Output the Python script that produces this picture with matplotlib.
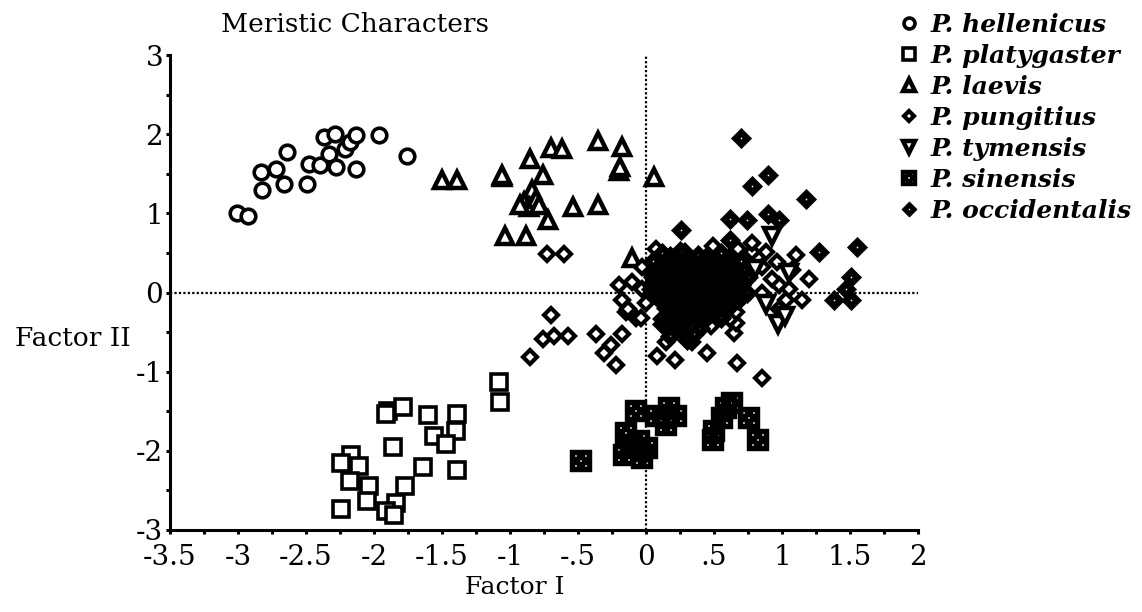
import matplotlib
matplotlib.use('Agg')
import matplotlib.pyplot as plt
from matplotlib.path import Path

# ---- data (Factor I, Factor II) ----
hell_x = [-3.01, -2.93, -2.82, -2.83, -2.72, -2.66, -2.64, -2.49, -2.48, -2.40, -2.37,
          -2.29, -2.33, -2.28, -2.21, -2.18, -2.13, -2.13, -1.96, -1.76]
hell_y = [1.01, 0.97, 1.30, 1.52, 1.56, 1.37, 1.77, 1.37, 1.62, 1.61, 1.96,
          2.00, 1.75, 1.58, 1.81, 1.90, 1.99, 1.56, 1.99, 1.73]

plat_x = [-1.08, -1.07, -1.90, -1.79, -1.91, -1.60, -1.39, -1.56, -1.40, -1.47, -1.86,
          -2.17, -2.24, -2.11, -1.64, -1.39, -2.18, -2.04, -1.77, -2.05, -1.84, -2.24,
          -1.91, -1.85]
plat_y = [-1.13, -1.38, -1.50, -1.44, -1.54, -1.55, -1.54, -1.81, -1.75, -1.91, -1.95,
          -2.05, -2.15, -2.19, -2.20, -2.24, -2.38, -2.45, -2.45, -2.63, -2.66, -2.74,
          -2.76, -2.81]

laev_x = [-1.50, -1.39, -1.06, -1.06, -0.85, -0.70, -0.62, -0.35, -0.18, -0.20, -0.19,
          -0.76, -0.84, -0.90, -0.86, -0.81, -0.93, -0.79, -0.54, -0.35, -0.72, -1.04,
          -0.88, 0.06, -0.10]
laev_y = [1.42, 1.42, 1.46, 1.49, 1.69, 1.83, 1.81, 1.91, 1.84, 1.54, 1.58,
          1.49, 1.30, 1.14, 1.08, 1.18, 1.11, 1.10, 1.08, 1.11, 0.91, 0.72,
          0.72, 1.46, 0.44]

pung_x = [-0.73, -0.60, -0.70, -0.76, -0.68, -0.57, -0.85, -0.37, -0.26, -0.18, -0.31,
          -0.22, -0.15, -0.07, 0.67, 0.85, 0.45, 0.34, 0.21, 0.08, 0.15, 0.65, 0.66,
          1.10, 1.20, 1.15, 1.03, 0.98, 1.07, 0.88, 0.78, 0.85, 0.96, 0.93, 0.85, 0.98,
          1.05, 0.78, 0.68, 0.07, -0.03, -0.10, -0.03, -0.18, -0.13, 0.00, -0.20, 0.04,
          -0.04, 0.12, 0.24, 0.62, 0.66, 0.48, 0.49, 0.29]
pung_y = [0.49, 0.49, -0.29, -0.59, -0.55, -0.55, -0.81, -0.53, -0.66, -0.53, -0.76,
          -0.91, -0.25, -0.32, -0.89, -1.08, -0.76, -0.63, -0.85, -0.80, -0.63, -0.51, -0.38,
          0.47, 0.17, -0.09, -0.09, 0.09, 0.29, 0.51, 0.51, 0.32, 0.38, 0.17, 0.00, -0.21,
          0.04, 0.63, 0.55, 0.55, 0.32, 0.13, 0.04, -0.09, -0.21, -0.13, 0.09, 0.10,
          -0.32, -0.34, -0.42, -0.34, -0.25, -0.42, 0.59, 0.51]

tyme_x = [0.93, 0.97, 1.02, 0.88, 1.05, 0.80]
tyme_y = [0.72, -0.40, -0.30, -0.15, 0.25, 0.30]

sine_x = [-0.48, -0.07, 0.07, 0.17, 0.22, 0.15, -0.15, -0.05, 0.01, -0.16, -0.03, -0.11,
          0.59, 0.63, 0.56, 0.50, 0.49, 0.76, 0.82]
sine_y = [-2.13, -1.50, -1.56, -1.46, -1.56, -1.67, -1.77, -1.88, -1.96, -2.05, -2.09, -1.94,
          -1.46, -1.39, -1.58, -1.75, -1.86, -1.58, -1.86]

occi_x = [0.90, 0.78, 1.18, 0.62, 0.74, 0.90, 0.98, 0.26, 0.62, 1.27, 1.55, 1.51, 1.47,
          1.38, 1.51, 0.70,
          0.12, 0.25, 0.38, 0.55,
          0.05, 0.18, 0.30, 0.45, 0.58, 0.70,
          0.10, 0.22, 0.35, 0.48, 0.60, 0.72,
          0.05, 0.15, 0.28, 0.40, 0.52, 0.65, 0.75,
          0.10, 0.20, 0.33, 0.45, 0.58, 0.70,
          0.05, 0.16, 0.27, 0.38, 0.50, 0.62, 0.74,
          0.10, 0.22, 0.33, 0.44, 0.55, 0.68,
          0.15, 0.27, 0.38, 0.50, 0.60,
          0.20, 0.32, 0.45, 0.55,
          0.25, 0.40, 0.18, 0.30, 0.12, 0.35,
          0.18, 0.31, 0.44, 0.60,
          0.11, 0.24, 0.37, 0.51, 0.64,
          0.04, 0.17, 0.30, 0.42, 0.55, 0.68,
          0.10, 0.22, 0.35, 0.47, 0.60, 0.71,
          0.04, 0.15, 0.28, 0.40, 0.52, 0.64,
          0.09, 0.21, 0.32, 0.44, 0.57, 0.70,
          0.14, 0.26, 0.38, 0.50, 0.62,
          0.22, 0.35, 0.48, 0.28, 0.42]
occi_y = [1.48, 1.35, 1.18, 0.93, 0.91, 0.99, 0.91, 0.79, 0.66, 0.51, 0.57, 0.19, 0.04,
          -0.09, -0.09, 1.95,
          0.50, 0.52, 0.48, 0.50,
          0.40, 0.40, 0.40, 0.40, 0.40, 0.40,
          0.30, 0.30, 0.30, 0.30, 0.30, 0.28,
          0.20, 0.20, 0.20, 0.20, 0.20, 0.20, 0.20,
          0.10, 0.10, 0.10, 0.10, 0.10, 0.10,
          0.00, 0.00, 0.00, 0.00, 0.00, 0.00, 0.00,
          -0.10, -0.10, -0.10, -0.10, -0.10, -0.10,
          -0.20, -0.20, -0.20, -0.20, -0.20,
          -0.30, -0.30, -0.30, -0.32,
          -0.45, -0.45, -0.55, -0.60, -0.40, -0.52,
          0.46, 0.44, 0.45, 0.43,
          0.35, 0.35, 0.34, 0.36, 0.35,
          0.25, 0.25, 0.24, 0.26, 0.25, 0.23,
          0.15, 0.15, 0.14, 0.16, 0.15, 0.13,
          0.05, 0.05, 0.04, 0.06, 0.05, 0.05,
          -0.05, -0.05, -0.06, -0.04, -0.05, -0.06,
          -0.15, -0.15, -0.16, -0.14, -0.15,
          -0.25, -0.25, -0.26, -0.38, -0.36]

species = ['P. hellenicus', 'P. platygaster', 'P. laevis', 'P. pungitius',
           'P. tymensis', 'P. sinensis', 'P. occidentalis']

xticks = [-3.5, -3, -2.5, -2, -1.5, -1, -0.5, 0, 0.5, 1, 1.5, 2]
xticklabels = ['-3.5', '-3', '-2.5', '-2', '-1.5', '-1', '-.5', '0', '.5', '1', '1.5', '2']
yticks = [-3, -2, -1, 0, 1, 2, 3]


def holed_marker(outer, holes, h):
    # outer outline counter-clockwise, small square holes clockwise
    verts = list(outer) + [outer[0]]
    codes = [Path.MOVETO] + [Path.LINETO] * (len(outer) - 1) + [Path.CLOSEPOLY]
    for cx, cy in holes:
        sq = [(cx - h, cy - h), (cx - h, cy + h), (cx + h, cy + h), (cx + h, cy - h)]
        verts += sq + [sq[0]]
        codes += [Path.MOVETO, Path.LINETO, Path.LINETO, Path.LINETO, Path.CLOSEPOLY]
    return Path(verts, codes)


dot_diamond = holed_marker([(0, -1), (1, 0), (0, 1), (-1, 0)], [(0, 0)], 0.12)
dot_square = holed_marker([(-1, -1), (1, -1), (1, 1), (-1, 1)],
                          [(-0.45, -0.45), (0.45, -0.45), (0, 0), (-0.45, 0.45), (0.45, 0.45)],
                          0.10)

plt.rcParams['font.family'] = 'DejaVu Serif'

fig = plt.figure(figsize=(11.42, 6.12), dpi=100)
ax = fig.add_axes([170 / 1142, 82 / 612, 748 / 1142, 475 / 612])

# dotted zero lines
ax.axhline(0, color='black', lw=1.6, ls=(0, (1, 1)), zorder=1)
ax.axvline(0, color='black', lw=1.6, ls=(0, (1, 1)), zorder=1)

k = dict(ls='none', color='black')
h1, = ax.plot(hell_x, hell_y, marker='o', ms=10.5, mfc='white', mew=2.6, **k)
h2, = ax.plot(plat_x, plat_y, marker='s', ms=12, mfc='white', mew=2.6, **k)
h3, = ax.plot(laev_x, laev_y, marker='^', ms=11, mfc='white', mew=3.2, **k)
h4, = ax.plot(pung_x, pung_y, marker='D', ms=7, mfc='white', mew=3.0, **k)
h5, = ax.plot(tyme_x, tyme_y, marker='v', ms=11, mfc='white', mew=3.2, **k)
h6, = ax.plot(sine_x, sine_y, marker=dot_square, ms=15.5, mfc='black', mew=0.3, **k)
h7, = ax.plot(occi_x, occi_y, marker=dot_diamond, ms=14.5, mfc='black', mew=0.5, **k)

ax.set_xlim(-3.5, 2)
ax.set_ylim(-3, 3)
ax.spines['top'].set_visible(False)
ax.spines['right'].set_visible(False)
ax.spines['left'].set_linewidth(2.2)
ax.spines['bottom'].set_linewidth(2.2)

ax.set_xticks(xticks)
ax.set_xticklabels(xticklabels)
ax.set_xticks([v + 0.25 for v in xticks[:-1]], minor=True)
ax.set_yticks(yticks)
ax.set_yticklabels([str(v) for v in yticks])
ax.set_yticks([v + 0.5 for v in yticks[:-1]], minor=True)
ax.tick_params(which='both', direction='out', length=3, width=2.2, labelsize=20)
ax.tick_params(axis='x', pad=7)
ax.tick_params(axis='y', pad=2)

fig.text(355 / 1142, 1 - 25 / 612, 'Meristic Characters', fontsize=19,
         ha='center', va='center')
fig.text(515 / 1142, 1 - 588 / 612, 'Factor I', fontsize=18, ha='center', va='center')
fig.text(15 / 1142, 1 - 338 / 612, 'Factor II', fontsize=19, ha='left', va='center')

handles = [h1, h2, h3, h4, h5, h6, h7]
fig.legend(handles, species, loc='upper left', bbox_to_anchor=(896 / 1142, 1 - 13 / 612),
           frameon=False, borderpad=0, borderaxespad=0, handlelength=1.0,
           handletextpad=0.4, labelspacing=0.28, markerscale=0.75,
           prop=dict(family='DejaVu Serif', style='italic', weight='bold', size=18))

plt.savefig('out.png', dpi=100)
